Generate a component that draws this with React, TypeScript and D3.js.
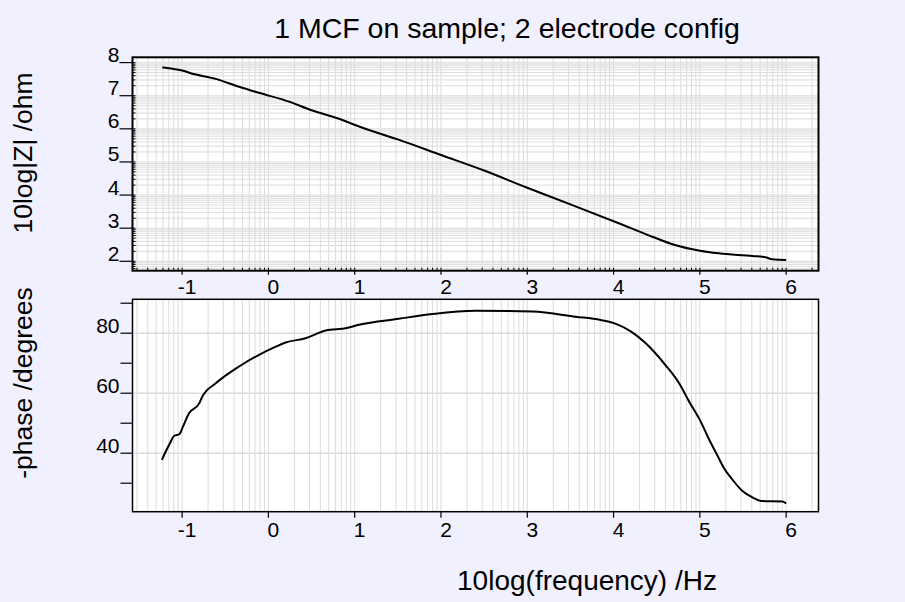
import * as d3 from "d3"

// log10 frequency / log10 |Z|
const Z_LOGF = [-1.23, -1.1, -1.0, -0.9, -0.6, -0.34, -0.1, 0.24, 0.5, 0.8, 1.05, 1.5, 2.0, 2.5, 3.0, 3.5, 4.06, 4.45, 4.7, 5.0, 5.22, 5.61, 5.76, 5.84, 6.0]
const Z_LOGZ = [7.85, 7.81, 7.76, 7.68, 7.5, 7.27, 7.08, 6.82, 6.56, 6.32, 6.07, 5.68, 5.21, 4.74, 4.22, 3.72, 3.15, 2.74, 2.5, 2.32, 2.24, 2.16, 2.12, 2.06, 2.04]

// log10 frequency / -phase in degrees
const P_LOGF = [-1.235, -1.15, -1.09, -1.03, -0.99, -0.92, -0.8, -0.765, -0.61, -0.34, -0.108, 0.086, 0.2, 0.43, 0.665, 0.91, 1.05, 1.51, 1.9, 2.4, 3.06, 3.56, 3.85, 4.02, 4.2, 4.37, 4.6, 4.76, 4.88, 5.0, 5.11, 5.19, 5.28, 5.38, 5.49, 5.61, 5.71, 5.96, 6.0]
const P_DEG = [37.8, 42.8, 45.8, 46.4, 48.9, 53.3, 56.7, 58.9, 63.3, 68.9, 72.8, 75.5, 76.9, 78.3, 80.9, 81.7, 82.8, 84.8, 86.4, 87.5, 87.2, 85.5, 84.4, 83.2, 80.6, 76.7, 69.4, 63.3, 57.0, 51.1, 44.4, 40.0, 35.0, 31.1, 27.5, 25.3, 24.1, 23.9, 23.2]

const X_TICKS = [-1, 0, 1, 2, 3, 4, 5, 6]
const Z_TICKS = [2, 3, 4, 5, 6, 7, 8]
const P_TICKS = [30, 40, 50, 60, 70, 80, 90]
const P_LABELS = [40, 60, 80]

const TITLE = "1 MCF on sample; 2 electrode config"
const Z_LABEL = "10log|Z| /ohm"
const P_LABEL = "-phase /degrees"
const X_LABEL = "10log(frequency) /Hz"

const W = 905
const H = 602
const BG = "#f0f0ff"
const GRID = "#dcdcdc"
const FONT = "'Liberation Sans', Arial, sans-serif"
const TICK_FONT = 21

const LEFT = 132.5
const RIGHT = 818.5
const TOP1 = 57.3
const BOT1 = 270.7
const TOP2 = 299.3
const BOT2 = 511.7

// log sub-divisions n + log10(k)
function logLines(lo: number, hi: number) {
  const out: number[] = []
  for (let n = Math.floor(lo) - 1; n <= Math.ceil(hi); n++) {
    for (let k = 1; k <= 9; k++) {
      const v = n + Math.log10(k)
      if (v > lo && v < hi) out.push(v)
    }
  }
  return out
}

export default function App() {
  const x = d3.scaleLinear().domain([-1.575, 6.375]).range([LEFT, RIGHT])
  const yZ = d3.scaleLinear().domain([1.716, 8.16]).range([BOT1, TOP1])
  const yP = d3.scaleLinear().domain([20.5, 91.3]).range([BOT2, TOP2])

  const xGrid = logLines(x.domain()[0], x.domain()[1])
  const zGrid = logLines(yZ.domain()[0], yZ.domain()[1])

  const zLine = d3
    .line<number>()
    .x((_, i) => x(Z_LOGF[i]))
    .y((d) => yZ(d))
    .curve(d3.curveMonotoneX)(Z_LOGZ)
  const pLine = d3
    .line<number>()
    .x((_, i) => x(P_LOGF[i]))
    .y((d) => yP(d))
    .curve(d3.curveMonotoneX)(P_DEG)

  return (
    <svg
      width={W}
      height={H}
      viewBox={`0 0 ${W} ${H}`}
      style={{ position: "absolute", left: 0, top: 0 }}
      fontFamily={FONT}
    >
      <rect width={W} height={H} fill={BG} />

      {/* top panel */}
      <rect x={LEFT} y={TOP1} width={RIGHT - LEFT} height={BOT1 - TOP1} fill="white" />
      {xGrid.map((v, i) => (
        <line key={"xg1" + i} x1={x(v)} x2={x(v)} y1={TOP1} y2={BOT1} stroke={GRID} strokeWidth={1} />
      ))}
      {zGrid.map((v, i) => (
        <line key={"zg" + i} x1={LEFT} x2={RIGHT} y1={yZ(v)} y2={yZ(v)} stroke={GRID} strokeWidth={1} />
      ))}
      {xGrid.map((v, i) => (
        <line key={"xm1" + i} x1={x(v)} x2={x(v)} y1={BOT1} y2={BOT1 - 3} stroke="black" strokeWidth={1} />
      ))}
      {zGrid.map((v, i) => (
        <line key={"zm" + i} x1={LEFT} x2={LEFT + 3} y1={yZ(v)} y2={yZ(v)} stroke="black" strokeWidth={1} />
      ))}
      <path d={zLine ?? ""} fill="none" stroke="black" strokeWidth={2} />
      <rect x={LEFT} y={TOP1} width={RIGHT - LEFT} height={BOT1 - TOP1} fill="none" stroke="black" strokeWidth={2} />
      {Z_TICKS.map((t) => (
        <g key={"zt" + t}>
          <line x1={LEFT - 13} x2={LEFT} y1={yZ(t)} y2={yZ(t)} stroke="black" strokeWidth={1.2} />
          <text x={LEFT - 13} y={yZ(t) - 0.5} textAnchor="end" fontSize={TICK_FONT}>
            {t}
          </text>
        </g>
      ))}
      {X_TICKS.map((t) => (
        <g key={"xt1" + t}>
          <line x1={x(t)} x2={x(t)} y1={BOT1} y2={BOT1 + 4} stroke="black" strokeWidth={1.2} />
          <text x={x(t) + 5} y={BOT1 + 23.5} textAnchor="middle" fontSize={TICK_FONT}>
            {t}
          </text>
        </g>
      ))}

      {/* bottom panel */}
      <rect x={LEFT} y={TOP2} width={RIGHT - LEFT} height={BOT2 - TOP2} fill="white" />
      {xGrid.map((v, i) => (
        <line key={"xg2" + i} x1={x(v)} x2={x(v)} y1={TOP2} y2={BOT2} stroke={GRID} strokeWidth={1} />
      ))}
      {P_LABELS.map((t) => (
        <line key={"pg" + t} x1={LEFT} x2={RIGHT} y1={yP(t)} y2={yP(t)} stroke={GRID} strokeWidth={1.5} />
      ))}
      <path d={pLine ?? ""} fill="none" stroke="black" strokeWidth={2} />
      <rect x={LEFT} y={TOP2} width={RIGHT - LEFT} height={BOT2 - TOP2} fill="none" stroke="black" strokeWidth={1.5} />
      {P_TICKS.map((t) => (
        <line key={"pt" + t} x1={LEFT - 12} x2={LEFT} y1={yP(t)} y2={yP(t)} stroke="black" strokeWidth={1.2} />
      ))}
      {P_LABELS.map((t) => (
        <text key={"pl" + t} x={LEFT - 13} y={yP(t)} textAnchor="end" fontSize={TICK_FONT}>
          {t}
        </text>
      ))}
      {X_TICKS.map((t) => (
        <g key={"xt2" + t}>
          <line x1={x(t)} x2={x(t)} y1={BOT2} y2={BOT2 + 6} stroke="black" strokeWidth={1.2} />
          <text x={x(t) + 5} y={BOT2 + 25.5} textAnchor="middle" fontSize={TICK_FONT}>
            {t}
          </text>
        </g>
      ))}

      {/* titles */}
      <text x={507} y={38} textAnchor="middle" fontSize={28.5}>
        {TITLE}
      </text>
      <text x={587} y={590} textAnchor="middle" fontSize={28}>
        {X_LABEL}
      </text>
      <text transform="translate(31.5,153) rotate(-90)" textAnchor="middle" fontSize={26.5}>
        {Z_LABEL}
      </text>
      <text transform="translate(31.5,383) rotate(-90)" textAnchor="middle" fontSize={26.5}>
        {P_LABEL}
      </text>
    </svg>
  )
}
